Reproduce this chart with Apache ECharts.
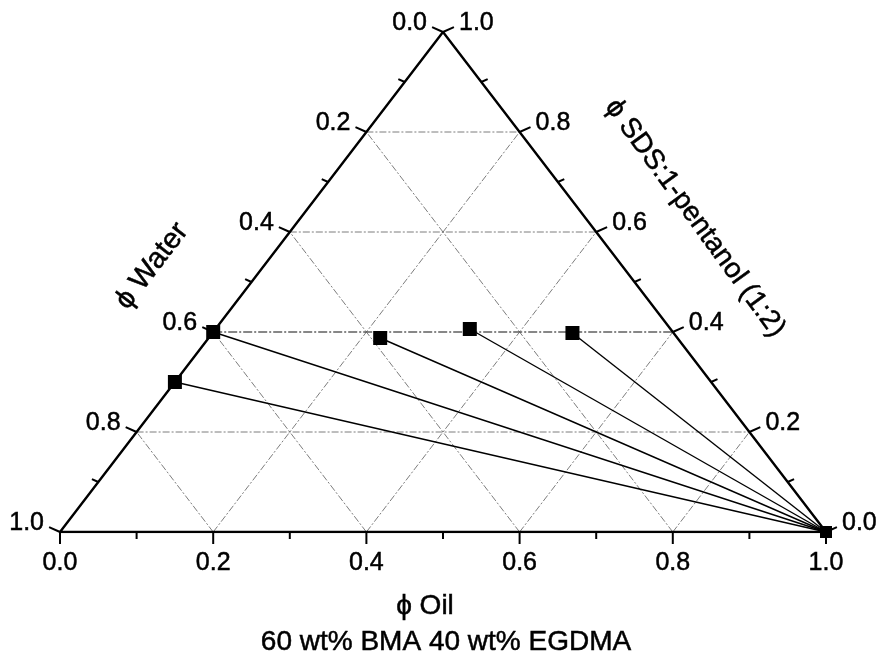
<!DOCTYPE html>
<html>
<head>
<meta charset="utf-8">
<script src="https://cdn.jsdelivr.net/npm/echarts@6/dist/echarts.min.js"></script>
<style>html,body{margin:0;padding:0;background:#fff}#c{width:884px;height:663px}</style>
</head>
<body>
<div id="c"></div>
<script>
// ---- data (ternary fractions) ----
const oil   = [0.000, 0.000, 0.224, 0.332, 0.470];
const sds   = [0.400, 0.300, 0.388, 0.406, 0.398];
const water = [0.600, 0.700, 0.388, 0.262, 0.132];
const endOil = [1.0];
const endSds = [0.0];
const tickValues = [0, 0.2, 0.4, 0.6, 0.8, 1.0];
const tickLabels = ['0.0', '0.2', '0.4', '0.6', '0.8', '1.0'];
const minorTicks = [0.1, 0.3, 0.5, 0.7, 0.9];
const gridValues = [0.2, 0.4, 0.6, 0.8];

// ternary -> cartesian (oil along bottom, sds up)
function tc(o, s) { return [o + s / 2, s]; }

const FONT = '"Liberation Sans", Arial, sans-serif';
const series = [];
const GRID_STYLE = {color: '#6e6e6e', width: 0.9, type: [7, 2, 2, 2]};

// grid lines
gridValues.forEach(function (v) {
  series.push({type: 'line', data: [tc(0, v), tc(1 - v, v)], symbol: 'none', silent: true,
    lineStyle: v === 0.4 ? {color: '#111', width: 1.1, type: [9, 2, 2, 2]} : GRID_STYLE, z: 1});
  series.push({type: 'line', data: [tc(v, 0), tc(v, 1 - v)], symbol: 'none', silent: true,
    lineStyle: GRID_STYLE, z: 1});
  series.push({type: 'line', data: [tc(1 - v, 0), tc(0, 1 - v)], symbol: 'none', silent: true,
    lineStyle: GRID_STYLE, z: 1});
});

// triangle
series.push({type: 'line', data: [tc(0, 0), tc(1, 0), tc(0, 1), tc(0, 0)], symbol: 'none', silent: true,
  lineStyle: {color: '#000', width: 2.4}, z: 3});

// ticks & labels via custom series
const tickData = [];
tickValues.forEach(function (t, i) {
  ['b', 'l', 'r'].forEach(function (s) { tickData.push([t, 0, s, 1, i]); });
});
minorTicks.forEach(function (t) {
  ['b', 'l', 'r'].forEach(function (s) { tickData.push([t, 0, s, 0, -1]); });
});
function axisPoint(side, t) {
  if (side === 'b') return tc(t, 0);          // oil = t
  if (side === 'l') return tc(0, 1 - t);      // water = t
  return tc(1 - t, t);                         // sds = t
}
const dirs = {b: [0, 1], l: [-0.91, -0.41], r: [0.91, -0.41]};
series.push({
  type: 'custom', silent: true, z: 4,
  data: tickData,
  renderItem: function (params, api) {
    const row = tickData[params.dataIndex];
    const t = row[0], side = row[2], major = row[3], idx = row[4];
    const p = api.coord(axisPoint(side, t));
    const d = dirs[side], len = major ? 12 : 7;
    const children = [{
      type: 'line', shape: {x1: p[0], y1: p[1], x2: p[0] + d[0] * len, y2: p[1] + d[1] * len},
      style: {stroke: '#000', lineWidth: 2}
    }];
    if (major) {
      let tx, ty, align;
      if (side === 'b') { tx = p[0]; ty = p[1] + 31; align = 'center'; }
      else if (side === 'l') { tx = p[0] - 16; ty = p[1] - 9; align = 'right'; }
      else { tx = p[0] + 16; ty = p[1] - 9; align = 'left'; }
      children.push({type: 'text', x: tx, y: ty,
        style: {text: tickLabels[idx], fill: '#000', stroke: '#000', lineWidth: 0.5,
          font: '25px ' + FONT, align: align, verticalAlign: 'middle'}});
    }
    return {type: 'group', children: children};
  }
});

// tie lines to the oil vertex
oil.forEach(function (o, i) {
  series.push({type: 'line', data: [tc(o, sds[i]), tc(endOil[0], endSds[0])], symbol: 'none', silent: true,
    lineStyle: {color: '#000', width: 1.4}, z: 5});
});

// points
series.push({type: 'scatter', data: oil.map(function (o, i) { return tc(o, sds[i]); }),
  symbol: 'rect', symbolSize: 14, itemStyle: {color: '#000', opacity: 1}, z: 6});
series.push({type: 'scatter', data: endOil.map(function (o, i) { return tc(o, endSds[i]); }),
  symbol: 'rect', symbolSize: 12, itemStyle: {color: '#000', opacity: 1}, z: 6});

const TITLE = {fill: '#000', stroke: '#000', lineWidth: 0.5, align: 'center', verticalAlign: 'middle'};
const chart = echarts.init(document.getElementById('c'), null, {renderer: 'canvas'});
chart.setOption({
  animation: false,
  backgroundColor: '#fff',
  grid: {left: 60, right: 58, top: 32, bottom: 131},
  xAxis: {type: 'value', min: 0, max: 1, show: false},
  yAxis: {type: 'value', min: 0, max: 1, show: false},
  series: series,
  graphic: [
    {type: 'text', x: 152, y: 266, rotation: 52.5 * Math.PI / 180,
      style: Object.assign({text: 'ϕ Water', font: '29px ' + FONT}, TITLE)},
    {type: 'text', x: 695, y: 218, rotation: -54 * Math.PI / 180,
      style: Object.assign({text: 'ϕ SDS:1-pentanol (1:2)', font: '28px ' + FONT}, TITLE)},
    {type: 'text', x: 425, y: 606,
      style: Object.assign({text: 'ϕ Oil', font: '28px ' + FONT}, TITLE)},
    {type: 'text', x: 446, y: 642,
      style: Object.assign({text: '60 wt% BMA 40 wt% EGDMA', font: '28px ' + FONT}, TITLE)}
  ]
});
</script>
</body>
</html>
